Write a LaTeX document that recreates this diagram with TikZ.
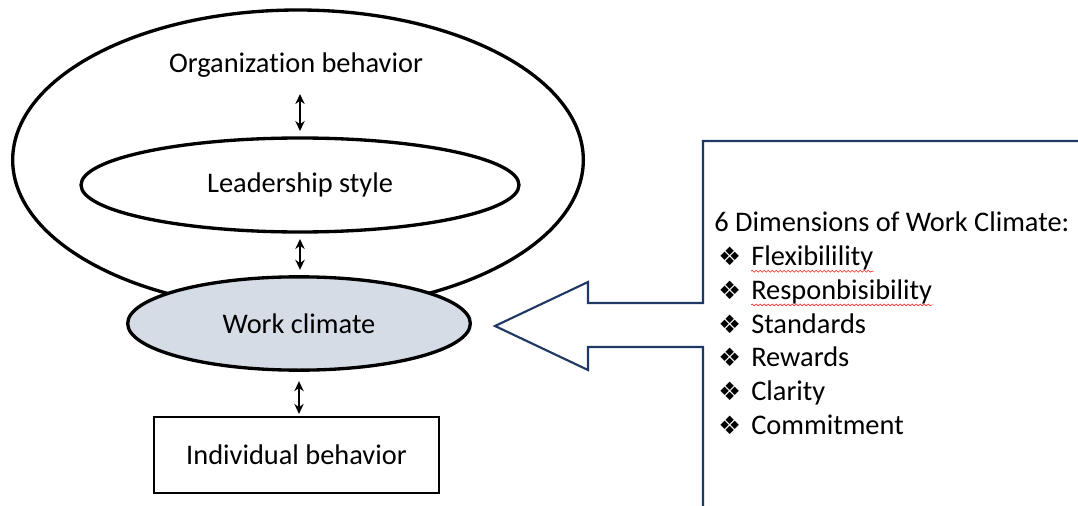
\documentclass[tikz,border=0pt]{standalone}
\usepackage{fontspec}
\setmainfont{Carlito}[Ligatures=NoCommon]
\newfontfamily\dingfamily{DejaVu Sans}
\usetikzlibrary{shapes.geometric}
\usetikzlibrary{arrows.meta}
\usetikzlibrary{decorations.pathmorphing}
\definecolor{climatefill}{HTML}{D6DCE5}
\definecolor{calloutblue}{HTML}{203864}
\newcommand{\bodysize}{\fontsize{21.3}{25}\selectfont}
\newcommand{\dimbullet}{{\dingfamily\fontsize{19}{22}\selectfont ❖}}

\begin{document}
\begin{tikzpicture}[x=0.75pt,y=-0.75pt,
  ring/.style={ellipse,draw=black,line width=2.5pt,inner sep=0pt,font=\bodysize},
  boxtext/.style={font=\bodysize,text=black},
  listtext/.style={font=\bodysize,text=black,anchor=base west,inner sep=0pt},
  link/.style={{Stealth[length=7.5pt,width=7pt]}-{Stealth[length=7.5pt,width=7pt]},line width=1.8pt},
  callout/.style={draw=calloutblue,line width=1.6pt},
  spellmark/.style={draw=red!85,line width=0.45pt,decorate,decoration={snake,amplitude=0.7pt,segment length=3pt}}]
\useasboundingbox (0,0) rectangle (1078,506);

\node[ring,minimum width=428pt,minimum height=225pt] (org) at (298,160) {};
\node[boxtext] (orgtext) at (296,65) {Organization behavior};
\node[ring,minimum width=328.5pt,minimum height=70.5pt] (lead) at (300,185) {Leadership style};
\node[ring,fill=climatefill,minimum width=257pt,minimum height=70pt] (work) at (299,323.5) {Work climate};
\node[boxtext,draw=black,line width=1.6pt,minimum width=213.75pt,minimum height=57pt] (indiv) at (296.5,455) {Individual behavior};

\draw[link,shorten <=9pt,shorten >=4pt] (lead.north |- orgtext.south) -- (lead.north);
\draw[link,shorten <=4pt,shorten >=4pt] (lead.south) -- (lead.south |- work.north);
\draw[link,shorten <=7pt,shorten >=1.5pt] (work.south) -- (work.south |- indiv.north);

\draw[callout] (1078,141) -- (703,141) -- (703,303) -- (588,303) -- (588,282) -- (495,326)
  -- (588,370) -- (588,347) -- (703,347) -- (703,506);

\node[listtext] (head) at (714,232) {6 Dimensions of Work Climate:};
\node[listtext] (b1) at (718,265.7) {\dimbullet};
\node[listtext] (flex) at (751,265.7) {Flexibilility};
\node[listtext] (b2) at (718,299.4) {\dimbullet};
\node[listtext] (resp) at (751,299.4) {Responbisibility};
\node[listtext] (b3) at (718,333.1) {\dimbullet};
\node[listtext] (stand) at (751,333.1) {Standards};
\node[listtext] (b4) at (718,366.8) {\dimbullet};
\node[listtext] (rew) at (751,366.8) {Rewards};
\node[listtext] (b5) at (718,400.5) {\dimbullet};
\node[listtext] (clar) at (751,400.5) {Clarity};
\node[listtext] (b6) at (718,434.2) {\dimbullet};
\node[listtext] (comm) at (751,434.2) {Commitment};

\draw[spellmark] ([yshift=-0.5pt]flex.south west) -- ([yshift=-0.5pt]flex.south east);
\draw[spellmark] ([yshift=-0.5pt]resp.south west) -- ([yshift=-0.5pt]resp.south east);
\end{tikzpicture}
\end{document}
